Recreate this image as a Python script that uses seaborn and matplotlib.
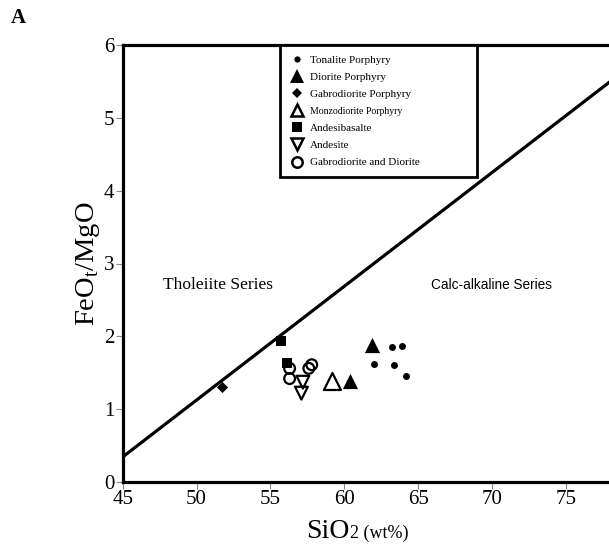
import matplotlib
matplotlib.use("Agg")
import matplotlib.pyplot as plt
from matplotlib.lines import Line2D
import seaborn as sns
import pandas as pd

sns.set_theme(style="white")
plt.rcParams['font.family'] = ['Liberation Serif', 'DejaVu Serif']
plt.rcParams['mathtext.fontset'] = 'custom'
plt.rcParams['mathtext.rm'] = 'Liberation Serif'
plt.rcParams['text.color'] = 'black'
plt.rcParams['axes.labelcolor'] = 'black'
plt.rcParams['xtick.color'] = 'black'
plt.rcParams['ytick.color'] = 'black'

# ---- data ----
tonalite_x = [63.2, 63.9, 62.0, 63.4, 64.2]
tonalite_y = [1.86, 1.87, 1.62, 1.60, 1.46]
diorite_x = [61.9, 60.4]
diorite_y = [1.88, 1.39]
gabro_porph_x = [51.7]
gabro_porph_y = [1.30]
monzo_x = [59.2]
monzo_y = [1.38]
andesibasalte_x = [55.7, 56.1]
andesibasalte_y = [1.93, 1.64]
andesite_x = [57.2, 57.1]
andesite_y = [1.37, 1.22]
gabro_dior_x = [56.3, 56.3, 57.6, 57.8]
gabro_dior_y = [1.56, 1.42, 1.56, 1.61]

boundary_x = [45, 80]
boundary_y = [0.344, 5.81]

x_ticks = [45, 50, 55, 60, 65, 70, 75]
y_ticks = [0, 1, 2, 3, 4, 5, 6]

groups = [
    ("Tonalite Porphyry", tonalite_x, tonalite_y, 'o', 25, True, 4.5, 8),
    ("Diorite Porphyry", diorite_x, diorite_y, '^', 120, True, 10, 8),
    ("Gabrodiorite Porphyry", gabro_porph_x, gabro_porph_y, 'D', 32, True, 5.5, 8),
    ("Monzodiorite Porphyry", monzo_x, monzo_y, '^', 150, False, 9, 7),
    ("Andesibasalte", andesibasalte_x, andesibasalte_y, 's', 45, True, 7, 8),
    ("Andesite", andesite_x, andesite_y, 'v', 85, False, 8.5, 8),
    ("Gabrodiorite and Diorite", gabro_dior_x, gabro_dior_y, 'o', 60, False, 7.5, 8),
]

fig = plt.figure(figsize=(6.09, 5.44), dpi=100)
fig.patch.set_facecolor('white')
W, H = 609, 544
ax_left, ax_bottom, ax_top = 122.7, 482, 45
ax_w_px = 35 * 14.77
ax = fig.add_axes([ax_left / W, (H - ax_bottom) / H, ax_w_px / W, (ax_bottom - ax_top) / H])
ax.set_facecolor('white')

sns.lineplot(x=boundary_x, y=boundary_y, color='black', linewidth=2.3, ax=ax, zorder=2)

for name, xs, ys, mk, s, filled, ms, fs in groups:
    df = pd.DataFrame({"x": xs, "y": ys})
    if filled:
        sns.scatterplot(data=df, x="x", y="y", marker=mk, s=s, color='black',
                        edgecolor='black', linewidth=0, ax=ax, zorder=3)
    else:
        sns.scatterplot(data=df, x="x", y="y", marker=mk, s=s,
                        facecolor='none', edgecolor='black', linewidth=1.6, ax=ax, zorder=3)

ax.set_xlim(45, 80)
ax.set_ylim(0, 6)
ax.set_xticks(x_ticks)
ax.set_yticks(y_ticks)
ax.tick_params(axis='both', which='major', labelsize=15, length=5, width=0.8,
               color='#888888', labelcolor='black', direction='out', pad=1,
               bottom=True, left=True)
for lab in ax.get_xticklabels() + ax.get_yticklabels():
    lab.set_fontfamily('Liberation Serif')

for side in ['top', 'left', 'bottom']:
    ax.spines[side].set_visible(True)
    ax.spines[side].set_color('black')
    ax.spines[side].set_linewidth(2.3)
ax.spines['right'].set_visible(False)

ax.set_xlabel("")
ax.set_ylabel(r"FeO$_\mathrm{t}$/MgO", fontsize=20.5, color='black')
ax.yaxis.set_label_coords(-0.04, 0.5)

# x label: large "SiO" followed by smaller "2 (wt%)" on same baseline
fig.text(350 / W, (H - 538) / H, "SiO", fontsize=20, ha='right', va='baseline', color='black')
fig.text(350 / W, (H - 538) / H, "2 (wt%)", fontsize=13, ha='left', va='baseline', color='black')

ax.text(51.45, 2.71, "Tholeiite Series", fontsize=12.5, ha='center', va='center', color='black')
ax.text(69.94, 2.71, "Calc-alkaline Series", fontsize=9.8, ha='center', va='center',
        color='black', family=['Liberation Sans', 'DejaVu Sans'])

fig.text(18 / W, (H - 18) / H, "A", fontsize=15, fontweight='bold', ha='center', va='center',
         color='black')

handles = []
for name, xs, ys, mk, s, filled, ms, fs in groups:
    handles.append(Line2D([], [], linestyle='none', marker=mk, markersize=ms,
                          markerfacecolor='black' if filled else 'none',
                          markeredgecolor='black', markeredgewidth=0 if filled else 1.8,
                          label=name))
x0 = (280 - ax_left) / ax_w_px
wfrac = (476.7 - 280) / ax_w_px
leg = ax.legend(handles=handles, loc='upper left',
                bbox_to_anchor=(x0, 0.0, wfrac, 1.0), mode='expand', frameon=True,
                fancybox=False, framealpha=1.0, fontsize=8, labelspacing=0.66,
                handlelength=1.2, handletextpad=0.6, borderpad=0.9, borderaxespad=0)
leg.get_frame().set_edgecolor('black')
leg.get_frame().set_facecolor('white')
leg.get_frame().set_linewidth(2.0)
for t, g in zip(leg.get_texts(), groups):
    t.set_fontsize(g[7])
    t.set_color('black')

fig.savefig("out.png", dpi=100, facecolor='white')
